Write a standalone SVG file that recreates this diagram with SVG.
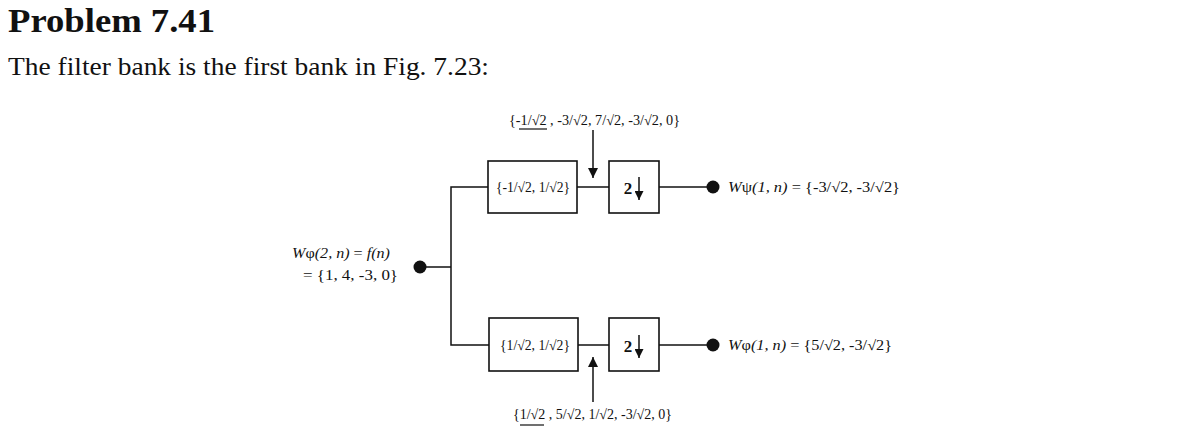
<svg xmlns="http://www.w3.org/2000/svg" width="1183" height="433" viewBox="0 0 1183 433">
<defs>
<style>
.t{font-family:"Liberation Serif",serif;fill:#111;}
.d{font-size:14px;}
.i{font-style:italic;}
.ln{stroke:#111;stroke-width:1.5;fill:none;}
.bx{stroke:#111;stroke-width:1.6;fill:#fff;}
</style>
<marker id="ah" viewBox="0 0 10 10" refX="10" refY="5" markerWidth="10" markerHeight="9" markerUnits="userSpaceOnUse" orient="auto"><path d="M0,0 L10,5 L0,10 z" fill="#111"/></marker>
<marker id="ah2" viewBox="0 0 10 10" refX="10" refY="5" markerWidth="14" markerHeight="10" markerUnits="userSpaceOnUse" orient="auto"><path d="M0,0 L10,5 L0,10 z" fill="#111"/></marker>
</defs>
<rect width="1183" height="433" fill="#fff"/>
<text class="t" x="8" y="32" font-size="34" font-weight="bold" textLength="207" lengthAdjust="spacingAndGlyphs">Problem 7.41</text>
<text class="t" x="8" y="75" font-size="25" textLength="481" lengthAdjust="spacingAndGlyphs">The filter bank is the first bank in Fig. 7.23:</text>

<g id="connectors">
<line class="ln" x1="420" y1="267" x2="451" y2="267"/>
<polyline class="ln" points="488,187 451,187 451,345 489,345"/>
<line class="ln" x1="577" y1="187" x2="609" y2="187"/>
<line class="ln" x1="659" y1="187" x2="713" y2="187"/>
<line class="ln" x1="578" y1="345" x2="609" y2="345"/>
<line class="ln" x1="659" y1="345" x2="713" y2="345"/>
<line class="ln" x1="593" y1="130" x2="593" y2="178" marker-end="url(#ah2)"/>
<line class="ln" x1="593" y1="402" x2="593" y2="357" marker-end="url(#ah2)"/>
</g>

<g id="input">
<circle cx="420" cy="267" r="6.5" fill="#111"/>
<text class="t d" x="292" y="258" textLength="98" lengthAdjust="spacingAndGlyphs"><tspan class="i">W</tspan>φ<tspan class="i">(2, n)</tspan> = <tspan class="i">f(n)</tspan></text>
<text class="t d" x="303" y="280" textLength="95" lengthAdjust="spacingAndGlyphs">= {1, 4, -3, 0}</text>
</g>

<g id="h-psi">
<rect class="bx" x="488" y="161" width="89" height="52"/>
<text class="t" x="496" y="192" font-size="14" textLength="74" lengthAdjust="spacingAndGlyphs">{-1/√2, 1/√2}</text>
</g>
<g id="down-top">
<rect class="bx" x="609" y="161" width="50" height="52"/>
<text class="t" x="628" y="194" font-size="17" font-weight="bold" text-anchor="middle">2</text>
<line class="ln" x1="639" y1="177" x2="639" y2="200" marker-end="url(#ah)"/>
</g>
<g id="out-psi">
<circle cx="713" cy="187" r="6.5" fill="#111"/>
<text class="t d" x="728" y="192" textLength="172" lengthAdjust="spacingAndGlyphs"><tspan class="i">W</tspan>ψ<tspan class="i">(1, n)</tspan> = {-3/√2, -3/√2}</text>
</g>
<g id="label-top">
<text class="t d" x="509" y="125" textLength="171" lengthAdjust="spacingAndGlyphs">{-1/√2 , -3/√2, 7/√2, -3/√2, 0}</text>
<line x1="519" y1="129" x2="547" y2="129" stroke="#111" stroke-width="1.2"/>
</g>

<g id="h-phi">
<rect class="bx" x="489" y="318" width="89" height="53"/>
<text class="t" x="500" y="350" font-size="14" textLength="70" lengthAdjust="spacingAndGlyphs">{1/√2, 1/√2}</text>
</g>
<g id="down-bottom">
<rect class="bx" x="609" y="318" width="50" height="53"/>
<text class="t" x="628" y="352" font-size="17" font-weight="bold" text-anchor="middle">2</text>
<line class="ln" x1="639" y1="335" x2="639" y2="358" marker-end="url(#ah)"/>
</g>
<g id="out-phi">
<circle cx="713" cy="345" r="6.5" fill="#111"/>
<text class="t d" x="728" y="350" textLength="164" lengthAdjust="spacingAndGlyphs"><tspan class="i">W</tspan>φ<tspan class="i">(1, n)</tspan> = {5/√2, -3/√2}</text>
</g>
<g id="label-bottom">
<text class="t d" x="513" y="419" textLength="159" lengthAdjust="spacingAndGlyphs">{1/√2 , 5/√2, 1/√2, -3/√2, 0}</text>
<line x1="520" y1="425" x2="544" y2="425" stroke="#111" stroke-width="1.2"/>
</g>
</svg>
